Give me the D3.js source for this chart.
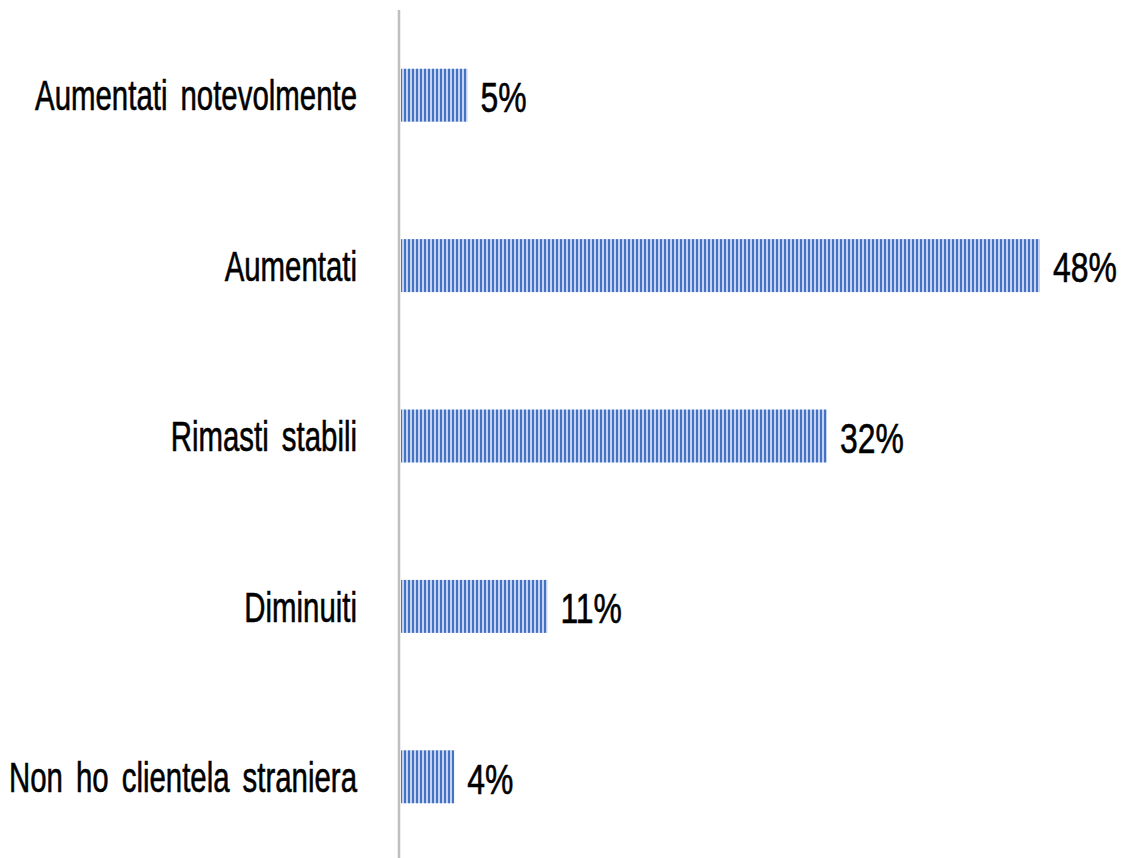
<!DOCTYPE html>
<html>
<head>
<meta charset="utf-8">
<script src="https://d3js.org/d3.v7.min.js"></script>
<style>
    body { margin: 0; background: #fff; }
    svg text { font-family: "Liberation Sans", Arial, sans-serif; stroke: #000; stroke-width: 0.6px; }
    .cat { font-size: 42px; fill: #000; word-spacing: 7px; }
    .val { font-size: 42px; fill: #000; }
</style>
</head>
<body>
<div id="chart"></div>
<script>
    var categories = ["Aumentati notevolmente", "Aumentati", "Rimasti stabili", "Diminuiti", "Non ho clientela straniera"];
    var values = [5, 48, 32, 11, 4];
    var valueLabels = ["5%", "48%", "32%", "11%", "4%"];

    var width = 1124, height = 858;
    var x0 = 401;
    var squeeze = 0.7; // condensed look

    var svg = d3.select("#chart").append("svg")
        .attr("width", width)
        .attr("height", height);

    // striped fill
    var pat = svg.append("defs").append("pattern")
        .attr("id", "stripes")
        .attr("patternUnits", "userSpaceOnUse")
        .attr("width", 4)
        .attr("height", 10);
    pat.append("rect").attr("width", 4).attr("height", 10).attr("fill", "#c5d3ee");
    pat.append("rect").attr("width", 2).attr("height", 10).attr("fill", "#4472c4");

    var xScale = d3.scaleLinear()
        .domain([0, 48])
        .range([x0, 1040]);

    var yScale = d3.scaleBand()
        .domain(categories)
        .range([10, 862])
        .paddingInner(0.689)
        .paddingOuter(0.3445);

    svg.append("g").selectAll("rect")
        .data(values).enter()
        .append("rect")
        .attr("x", xScale(0))
        .attr("y", (d, i) => yScale(categories[i]))
        .attr("width", d => xScale(d) - xScale(0))
        .attr("height", yScale.bandwidth())
        .attr("fill", "url(#stripes)");

    svg.append("g").selectAll("text")
        .data(values).enter()
        .append("text")
        .attr("class", "val")
        .attr("transform", (d, i) => `translate(${xScale(d) + 13}, ${yScale(categories[i]) + yScale.bandwidth() / 2}) scale(0.76, 1)`)
        .attr("dy", "0.4em")
        .text((d, i) => valueLabels[i]);

    // category axis
    var yAxis = d3.axisLeft(yScale).tickSize(0).tickPadding(0);
    var ax = svg.append("g")
        .attr("transform", `translate(${x0 - 2}, 0)`)
        .call(yAxis)
        .attr("font-family", null)
        .attr("font-size", null);
    ax.select(".domain").remove();
    ax.selectAll("text")
        .attr("class", "cat")
        .attr("x", 0)
        .attr("dy", "0.36em")
        .attr("transform", `translate(-42, 0) scale(${squeeze}, 1)`)
        .attr("fill", "#000");

    svg.append("line")
        .attr("x1", x0 - 2).attr("x2", x0 - 2)
        .attr("y1", 10).attr("y2", height)
        .attr("stroke", "#bfbfbf")
        .attr("stroke-width", 2.5);
</script>
</body>
</html>
